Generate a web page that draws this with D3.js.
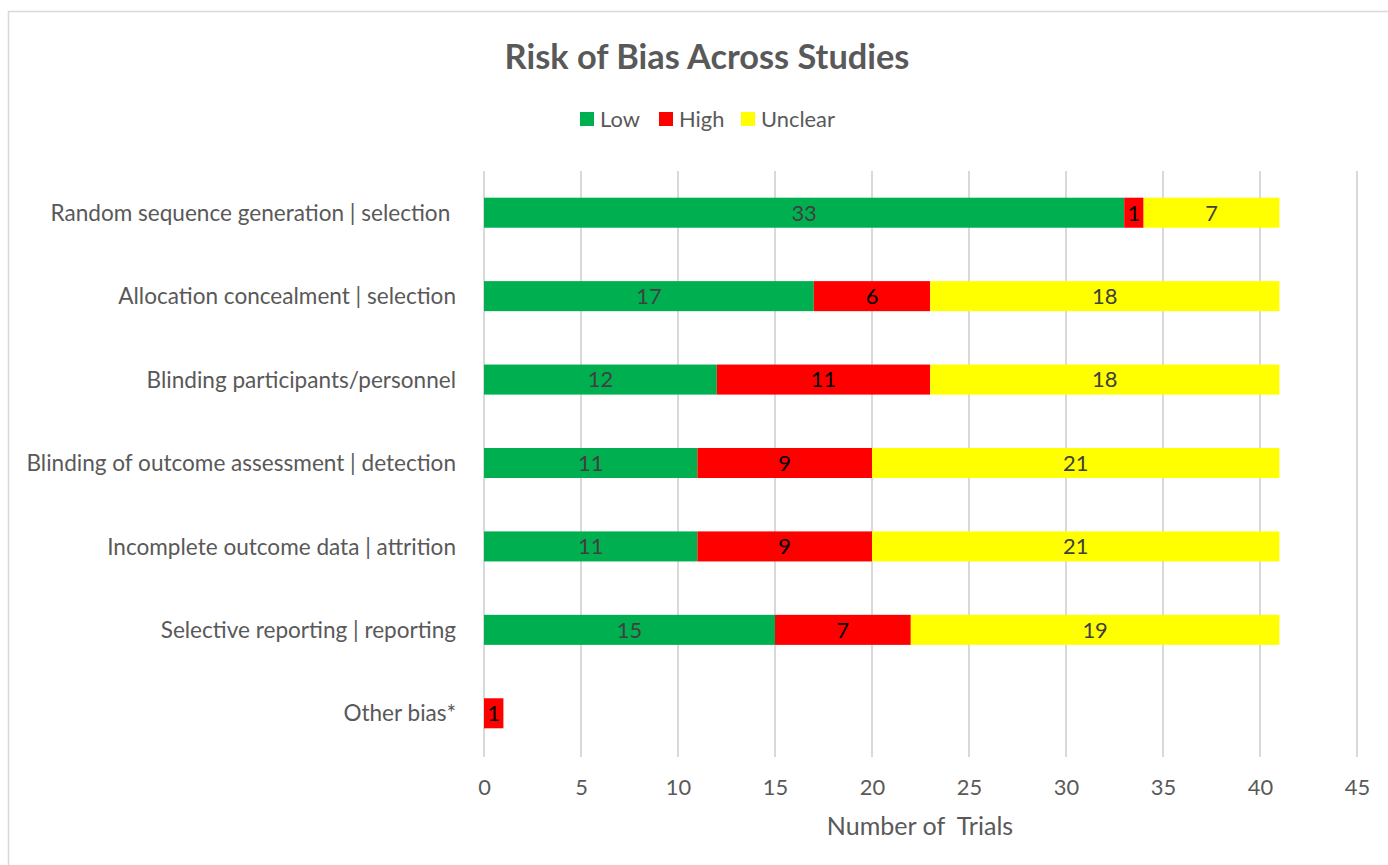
<!DOCTYPE html>
<html><head><meta charset="utf-8">
<script src="https://cdn.jsdelivr.net/npm/d3@7"></script>
<style>
body{margin:0;background:#fff;}
text{font-family:"Lato","Open Sans",sans-serif;}
</style></head>
<body><svg id="chart" width="1388" height="865"></svg>
<script>
const categories = [
  "Random sequence generation | selection ",
  "Allocation concealment | selection",
  "Blinding participants/personnel",
  "Blinding of outcome assessment | detection",
  "Incomplete outcome data | attrition",
  "Selective reporting | reporting",
  "Other bias*"
];
const seriesNames = ["Low", "High", "Unclear"];
const lowValues = [33, 17, 12, 11, 11, 15, 0];
const highValues = [1, 6, 11, 9, 9, 7, 1];
const unclearValues = [7, 18, 18, 21, 21, 19, 0];
const xTicks = [0, 5, 10, 15, 20, 25, 30, 35, 40, 45];
const colors = ["#00B050", "#FF0000", "#FFFF00"];
const labelColors = ["#404040", "#000000", "#404040"];

const svg = d3.select("#chart");
const W = 1388, H = 865;
const margin = {left: 484, right: 31, top: 171, bottom: 110};

// measure helper: font size so that sample text reaches target width
function fitSize(sample, target, weight) {
  const t = svg.append("text").attr("font-size", 20).attr("font-weight", weight || "normal").text(sample);
  const w = t.node().getComputedTextLength();
  t.remove();
  return 20 * target / w;
}
const catSize = fitSize("Random sequence generation | selection", 400);
const titleSize = fitSize("Risk of Bias Across Studies", 405, "bold");
const axisTitleSize = fitSize("Number of Trials", 180);
const legendSize = fitSize("Unclear", 74);

svg.append("rect").attr("x", 8.5).attr("y", 11.5).attr("width", 1400).attr("height", 900)
  .attr("fill", "#fff").attr("stroke", "#D9D9D9").attr("stroke-width", 1.5);

const x = d3.scaleLinear().domain([0, 45]).range([margin.left, W - margin.right]);
const y = d3.scaleBand().domain(categories).range([margin.top, H - margin.bottom]).paddingInner(0.64).paddingOuter(0.32);

// gridlines
svg.append("g").selectAll("line").data(xTicks).join("line")
  .attr("x1", d => x(d)).attr("x2", d => x(d))
  .attr("y1", margin.top).attr("y2", H - margin.bottom + 2)
  .attr("stroke", "#D9D9D9").attr("stroke-width", 2);

// stacked data
const rows = categories.map((c, i) => ({cat: c, Low: lowValues[i], High: highValues[i], Unclear: unclearValues[i]}));
const stack = d3.stack().keys(seriesNames)(rows);

const g = svg.append("g");
stack.forEach((layer, si) => {
  const lg = g.append("g");
  lg.selectAll("rect").data(layer).join("rect")
    .attr("x", d => x(d[0])).attr("width", d => x(d[1]) - x(d[0]))
    .attr("y", d => y(d.data.cat)).attr("height", y.bandwidth())
    .attr("fill", colors[si]);
  lg.selectAll("text").data(layer.filter(d => d[1] - d[0] > 0)).join("text")
    .attr("x", d => (x(d[0]) + x(d[1])) / 2)
    .attr("y", d => y(d.data.cat) + y.bandwidth() / 2)
    .attr("dy", "0.36em").attr("text-anchor", "middle")
    .attr("font-size", legendSize).attr("fill", labelColors[si])
    .text(d => d[1] - d[0]);
});

// category labels
svg.append("g").selectAll("text").data(categories).join("text")
  .attr("x", 456).attr("y", d => y(d) + y.bandwidth() / 2)
  .attr("dy", "0.36em").attr("text-anchor", "end")
  .attr("font-size", catSize).attr("fill", "#595959")
  .style("white-space", "pre")
  .text(d => d);

// x axis
const xAxis = d3.axisBottom(x).tickValues(xTicks).tickSize(0).tickPadding(0);
const ax = svg.append("g").attr("transform", `translate(0, 787)`).call(xAxis);
ax.select(".domain").remove();
ax.selectAll("text").attr("font-size", legendSize).attr("fill", "#595959").attr("dy", "0.36em")
  .style("font-family", '"Lato","Open Sans",sans-serif');

svg.append("text").attr("x", 920).attr("y", 826).attr("dy", "0.36em").attr("text-anchor", "middle")
  .attr("font-size", axisTitleSize).attr("fill", "#595959").style("white-space", "pre").text("Number of  Trials");

// title
svg.append("text").attr("x", 707).attr("y", 57).attr("dy", "0.36em").attr("text-anchor", "middle")
  .attr("font-size", titleSize).attr("font-weight", "bold").attr("fill", "#595959").text("Risk of Bias Across Studies");

// legend
const legendX = [580, 659, 741];
const lg = svg.append("g");
seriesNames.forEach((s, i) => {
  lg.append("rect").attr("x", legendX[i]).attr("y", 112).attr("width", 14).attr("height", 14).attr("fill", colors[i]);
  lg.append("text").attr("x", legendX[i] + 20).attr("y", 119).attr("dy", "0.36em")
    .attr("font-size", legendSize).attr("fill", "#595959").text(s);
});
</script></body></html>
